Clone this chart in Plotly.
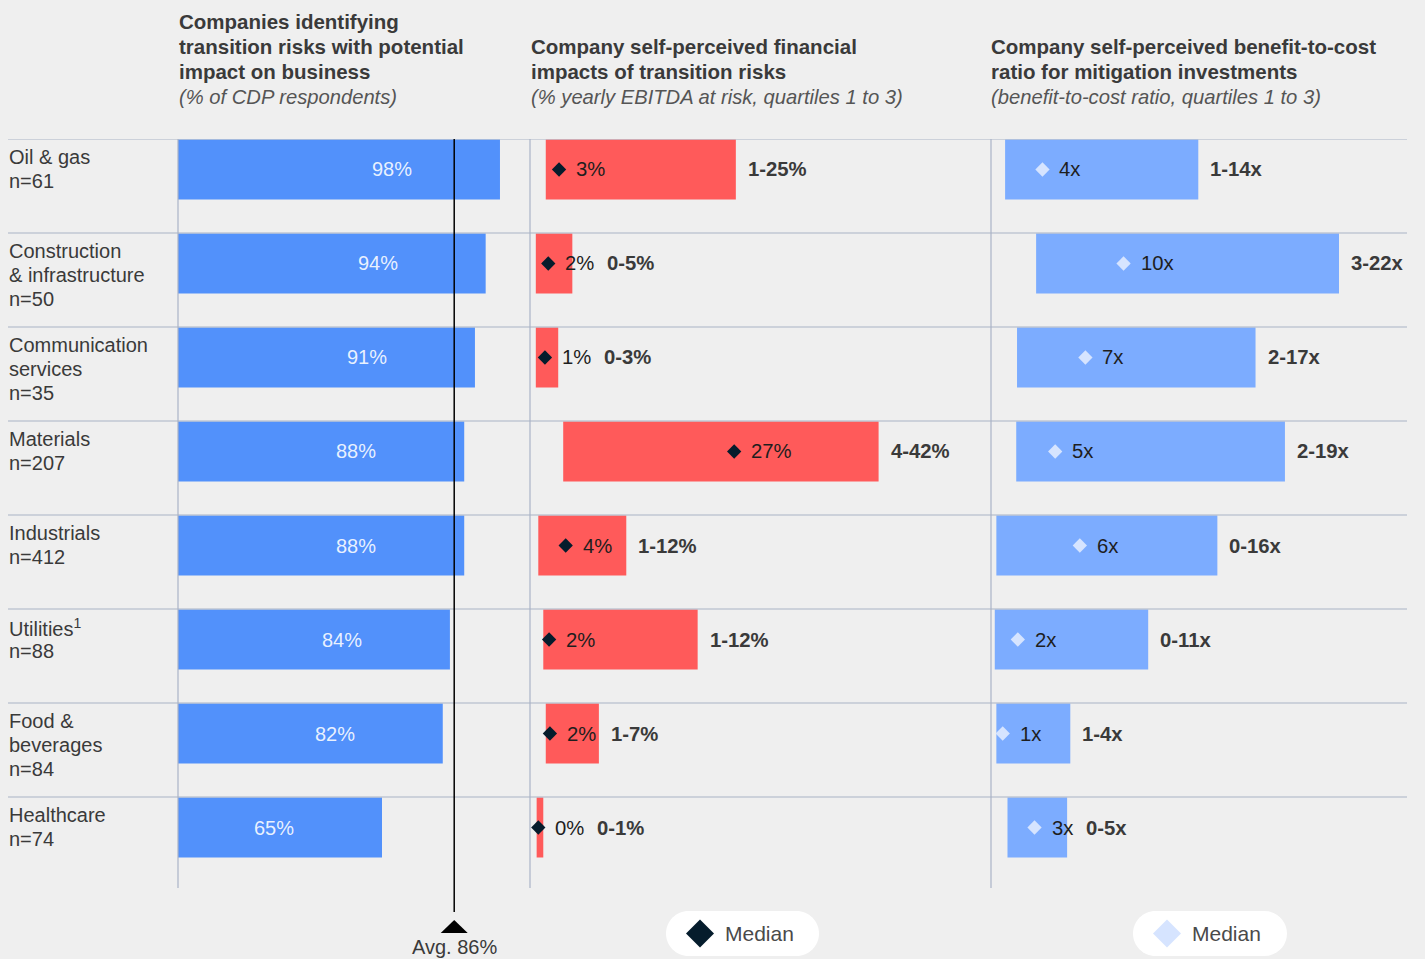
import plotly.graph_objects as go

W, H = 1425, 959

# ---------------- data ----------------
row_labels = [
    ["Oil & gas", "n=61"],
    ["Construction", "& infrastructure", "n=50"],
    ["Communication", "services", "n=35"],
    ["Materials", "n=207"],
    ["Industrials", "n=412"],
    ["Utilities<sup>1</sup>", "n=88"],
    ["Food &", "beverages", "n=84"],
    ["Healthcare", "n=74"],
]

share_pct = [98, 94, 91, 88, 88, 84, 82, 65]
share_labels = ["98%", "94%", "91%", "88%", "88%", "84%", "82%", "65%"]
avg_share = 85.2
avg_label = "Avg. 86%"

ebitda_q1 = [1.9, 0.7, 0.7, 4.0, 1.0, 1.6, 1.9, 0.8]
ebitda_q3 = [24.8, 5.1, 3.4, 42.0, 11.6, 20.2, 8.3, 1.6]
ebitda_median = [3.5, 2.2, 1.8, 24.6, 4.3, 2.3, 2.4, 1.0]
ebitda_median_labels = ["3%", "2%", "1%", "27%", "4%", "2%", "2%", "0%"]
ebitda_range_labels = ["1-25%", "0-5%", "0-3%", "4-42%", "1-12%", "1-12%", "1-7%", "0-1%"]

bcr_q1 = [0.95, 2.9, 1.7, 1.65, 0.4, 0.3, 0.4, 1.1]
bcr_q3 = [13.1, 21.95, 16.7, 18.55, 14.3, 9.95, 5.05, 4.85]
bcr_median = [3.3, 8.4, 6.0, 4.1, 5.65, 1.75, 0.8, 2.8]
bcr_median_labels = ["4x", "10x", "7x", "5x", "6x", "2x", "1x", "3x"]
bcr_range_labels = ["1-14x", "3-22x", "2-17x", "2-19x", "0-16x", "0-11x", "1-4x", "0-5x"]

titles = [
    ["Companies identifying", "transition risks with potential", "impact on business"],
    ["Company self-perceived financial", "impacts of transition risks"],
    ["Company self-perceived benefit-to-cost", "ratio for mitigation investments"],
]
subtitles = [
    "(% of CDP respondents)",
    "(% yearly EBITDA at risk, quartiles 1 to 3)",
    "(benefit-to-cost ratio, quartiles 1 to 3)",
]
legend_text = "Median"

# ---------------- style ----------------
BG = "#efefef"
BLUE = "#5291fb"
RED = "#ff5a5a"
LIGHTBLUE = "#7cacff"
NAVY = "#051c2c"
PALE = "#d6e4ff"
GRID = "#a9b3c6"
TXT = "#3a3a3a"
FONT = "Liberation Sans, Arial, sans-serif"

n = len(row_labels)
ROW_TOP_PX = 139
ROW_H = 94
Y_BOTTOM_PX = ROW_TOP_PX + n * ROW_H

def px_x(p):
    return p / W

def px_y(p):
    return 1 - p / H

# panel geometry (pixels) and ranges
P1_DOM = (178, 525); P1_RANGE = (7.94, 105.0)
P2_DOM = (530, 985); P2_RANGE = (0.0, (985 - 530) / 8.3)
P3_DOM = (990, 1407); P3_RANGE = (0.0, (1407 - 990) / 15.9)

def scale(dom, rng):
    return (dom[1] - dom[0]) / (rng[1] - rng[0])

s1, s2, s3 = scale(P1_DOM, P1_RANGE), scale(P2_DOM, P2_RANGE), scale(P3_DOM, P3_RANGE)

BAR_OFF = 30.5 / ROW_H
BAR_W = 60 / ROW_H
ys = [i + BAR_OFF for i in range(n)]

fig = go.Figure()

# Panel 1 bars
fig.add_trace(go.Bar(
    x=share_pct, y=ys, orientation="h", width=BAR_W,
    marker=dict(color=BLUE, line=dict(width=0)),
    xaxis="x", yaxis="y", showlegend=False, hoverinfo="skip",
))

# Panel 2 floating bars
fig.add_trace(go.Bar(
    x=[b - a for a, b in zip(ebitda_q1, ebitda_q3)], base=ebitda_q1, y=ys,
    orientation="h", width=BAR_W,
    marker=dict(color=RED, line=dict(width=0)),
    xaxis="x2", yaxis="y", showlegend=False, hoverinfo="skip",
))
fig.add_trace(go.Scatter(
    x=ebitda_median, y=ys, mode="markers",
    marker=dict(symbol="diamond", size=11, color=NAVY, line=dict(width=0)),
    xaxis="x2", yaxis="y", showlegend=False, hoverinfo="skip", cliponaxis=False,
))

# Panel 3 floating bars
fig.add_trace(go.Bar(
    x=[b - a for a, b in zip(bcr_q1, bcr_q3)], base=bcr_q1, y=ys,
    orientation="h", width=BAR_W,
    marker=dict(color=LIGHTBLUE, line=dict(width=0)),
    xaxis="x3", yaxis="y", showlegend=False, hoverinfo="skip",
))
fig.add_trace(go.Scatter(
    x=bcr_median, y=ys, mode="markers",
    marker=dict(symbol="diamond", size=11, color=PALE, line=dict(width=0)),
    xaxis="x3", yaxis="y", showlegend=False, hoverinfo="skip", cliponaxis=False,
))

annotations = []
shapes = []

# row separator lines
for i in range(n):
    shapes.append(dict(type="line", xref="paper", yref="y",
                       x0=px_x(8), x1=px_x(1407), y0=i, y1=i,
                       line=dict(color=GRID, width=1.2), layer="above"))

# vertical axis lines
for xp in (P1_DOM[0], P2_DOM[0], P3_DOM[0] + 1):
    shapes.append(dict(type="line", xref="paper", yref="paper",
                       x0=px_x(xp), x1=px_x(xp), y0=px_y(ROW_TOP_PX), y1=px_y(888),
                       line=dict(color=GRID, width=1.2), layer="above"))

# row labels
for i, lines in enumerate(row_labels):
    for j, t in enumerate(lines):
        annotations.append(dict(
            xref="paper", yref="y", x=px_x(7.5), y=i + (18 + 24 * j) / ROW_H,
            text=t, showarrow=False, xanchor="left", yanchor="middle",
            font=dict(family=FONT, size=20, color=TXT), borderpad=0))

# panel 1 value labels
for v, lab, y in zip(share_pct, share_labels, ys):
    annotations.append(dict(
        xref="x", yref="y", x=v, y=y, xshift=-108, text=lab, showarrow=False,
        xanchor="center", yanchor="middle",
        font=dict(family=FONT, size=20, color="rgba(255,255,255,0.88)")))

# text width estimate (pixels, 20px font)
def tw(s, bold=False):
    w = 0
    for ch in s:
        if ch.isdigit():
            w += 11.1
        elif ch == "%":
            w += 17.8
        elif ch == "x":
            w += 11.1 if bold else 10.0
        elif ch == "-":
            w += 6.7
        else:
            w += 10
    return w

def panel_labels(xref, sc, meds, med_labels, q3s, rng_labels):
    for y, m, ml, q3, rl in zip(ys, meds, med_labels, q3s, rng_labels):
        annotations.append(dict(
            xref=xref, yref="y", x=m, y=y, xshift=16, text=ml, showarrow=False,
            xanchor="left", yanchor="middle", borderpad=0,
            font=dict(family=FONT, size=20.3, color="#1e1e1e")))
        text_end = m + (16 + tw(ml)) / sc
        lx = max(q3 + 11 / sc, text_end + 13 / sc)
        annotations.append(dict(
            xref=xref, yref="y", x=lx, y=y, text="<b>" + rl + "</b>", showarrow=False,
            xanchor="left", yanchor="middle", borderpad=0,
            font=dict(family=FONT, size=20.3, color=TXT)))

panel_labels("x2", s2, ebitda_median, ebitda_median_labels, ebitda_q3, ebitda_range_labels)
panel_labels("x3", s3, bcr_median, bcr_median_labels, bcr_q3, bcr_range_labels)

# titles
title_x = [P1_DOM[0], P2_DOM[0], P3_DOM[0]]
for k in range(3):
    lines = titles[k]
    start = 97 - 25.3 * len(lines)
    for j, t in enumerate(lines):
        annotations.append(dict(
            xref="paper", yref="paper", x=px_x(title_x[k] - 0.5), y=px_y(start + 25.3 * j),
            text="<b>" + t + "</b>", showarrow=False, xanchor="left", yanchor="middle",
            borderpad=0, font=dict(family=FONT, size=20.5, color=TXT)))
    annotations.append(dict(
        xref="paper", yref="paper", x=px_x(title_x[k] - 0.5), y=px_y(97),
        text="<i>" + subtitles[k] + "</i>", showarrow=False, xanchor="left", yanchor="middle",
        borderpad=0, font=dict(family=FONT, size=20.2, color="#555555")))

# average line + triangle + label
shapes.append(dict(type="line", xref="x", yref="paper", x0=avg_share, x1=avg_share,
                   y0=px_y(ROW_TOP_PX), y1=px_y(912), line=dict(color="#000000", width=1.5),
                   layer="above"))
hw = 13.5 / s1
shapes.append(dict(type="path", xref="x", yref="paper",
                   path=f"M {avg_share - hw} {px_y(933)} L {avg_share + hw} {px_y(933)} "
                        f"L {avg_share} {px_y(920)} Z",
                   fillcolor="#000000", line=dict(width=0), layer="above"))
annotations.append(dict(xref="x", yref="paper", x=avg_share, y=px_y(947), text=avg_label,
                        showarrow=False, xanchor="center", yanchor="middle", borderpad=0,
                        font=dict(family=FONT, size=20, color=TXT)))

# legend pills
def pill(x0, x1, y0, y1):
    r = (y1 - y0) / 2
    X = lambda p: px_x(p); Y = lambda p: px_y(p)
    k = 0.5523 * r
    return (f"M {X(x0 + r)} {Y(y0)} L {X(x1 - r)} {Y(y0)} "
            f"C {X(x1 - r + k)} {Y(y0)} {X(x1)} {Y(y0 + r - k)} {X(x1)} {Y(y0 + r)} "
            f"C {X(x1)} {Y(y0 + r + k)} {X(x1 - r + k)} {Y(y1)} {X(x1 - r)} {Y(y1)} "
            f"L {X(x0 + r)} {Y(y1)} "
            f"C {X(x0 + r - k)} {Y(y1)} {X(x0)} {Y(y0 + r + k)} {X(x0)} {Y(y0 + r)} "
            f"C {X(x0)} {Y(y0 + r - k)} {X(x0 + r - k)} {Y(y0)} {X(x0 + r)} {Y(y0)} Z")

def diamond(cx, cy, h):
    return (f"M {px_x(cx - h)} {px_y(cy)} L {px_x(cx)} {px_y(cy - h)} "
            f"L {px_x(cx + h)} {px_y(cy)} L {px_x(cx)} {px_y(cy + h)} Z")

for (x0, x1, dcol) in ((666, 819, NAVY), (1133, 1287, PALE)):
    shapes.append(dict(type="path", xref="paper", yref="paper", path=pill(x0, x1, 911, 956),
                       fillcolor="#ffffff", line=dict(width=0), layer="above"))
    shapes.append(dict(type="path", xref="paper", yref="paper",
                       path=diamond(x0 + 34, 933.5, 14),
                       fillcolor=dcol, line=dict(width=0), layer="above"))
    annotations.append(dict(xref="paper", yref="paper", x=px_x(x0 + 58), y=px_y(933.5),
                            text=legend_text, showarrow=False, xanchor="left", yanchor="middle",
                            borderpad=0, font=dict(family=FONT, size=21, color="#4a4a4a")))

axis_common = dict(showgrid=False, zeroline=False, showticklabels=False, showline=False,
                   ticks="", fixedrange=True)

fig.update_layout(
    width=W, height=H,
    margin=dict(l=0, r=0, t=0, b=0),
    paper_bgcolor=BG, plot_bgcolor=BG,
    barmode="overlay",
    showlegend=False,
    xaxis=dict(domain=[px_x(P1_DOM[0]), px_x(P1_DOM[1])], range=list(P1_RANGE), anchor="y", **axis_common),
    xaxis2=dict(domain=[px_x(P2_DOM[0]), px_x(P2_DOM[1])], range=list(P2_RANGE), anchor="y", **axis_common),
    xaxis3=dict(domain=[px_x(P3_DOM[0]), px_x(P3_DOM[1])], range=list(P3_RANGE), anchor="y", **axis_common),
    yaxis=dict(domain=[px_y(Y_BOTTOM_PX), px_y(ROW_TOP_PX)], range=[n, 0], anchor="x", **axis_common),
    shapes=shapes,
    annotations=annotations,
)

fig.write_html(
    "out.html",
    config={"displayModeBar": False},
    post_script="document.body.style.margin='0';document.body.style.overflow='hidden';"
                "document.body.style.background='" + BG + "';",
)
